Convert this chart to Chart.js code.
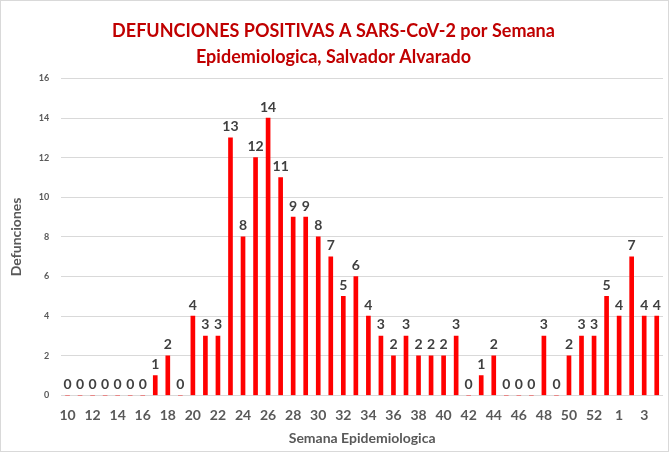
<!DOCTYPE html>
<html lang="es">
<head>
<meta charset="UTF-8" />
<title>Defunciones SARS-CoV-2 Salvador Alvarado</title>
<script src="https://cdn.jsdelivr.net/npm/chart.js@4.4.4/dist/chart.umd.min.js"></script>
<style>
  * { box-sizing: border-box; margin: 0; padding: 0; }
  body { background: #fff; width: 669px; height: 452px; overflow: hidden; }
  .wrap { position: relative; width: 669px; height: 452px; border: 1px solid #d9d9d9; }
</style>
</head>
<body>
<div class="wrap"><canvas id="chart"></canvas></div>
<script>
// semanas epidemiologicas: 10..53 de un año y 1..4 del siguiente
const semanas = ['10','11','12','13','14','15','16','17','18','19','20','21','22','23','24','25','26','27','28','29','30','31','32','33','34','35','36','37','38','39','40','41','42','43','44','45','46','47','48','49','50','51','52','53','1','2','3','4']
const defunciones = [0,0,0,0,0,0,0,1,2,0,4,3,3,13,8,12,14,11,9,9,8,7,5,6,4,3,2,3,2,2,2,3,0,1,2,0,0,0,3,0,2,3,3,5,4,7,4,4]
const yTicks = [0,2,4,6,8,10,12,14,16]

const font = 'Lato, "Open Sans", sans-serif'

// etiquetas de valor encima de cada barra
const valueLabels = {
  id: 'valueLabels',
  afterDatasetsDraw(chart) {
    const ctx = chart.ctx
    const meta = chart.getDatasetMeta(0)
    ctx.save()
    ctx.font = 'bold 14px ' + font
    ctx.fillStyle = '#404040'
    ctx.textAlign = 'center'
    ctx.textBaseline = 'bottom'
    meta.data.forEach((bar, i) => {
      ctx.fillText(String(defunciones[i]), bar.x, bar.y - 4)
    })
    ctx.restore()
  },
}

new Chart(document.getElementById('chart'), {
  type: 'bar',
  data: {
    labels: semanas,
    datasets: [{
      label: 'Defunciones',
      data: defunciones,
      backgroundColor: '#ff0000',
      barThickness: 4,
    }],
  },
  options: {
    responsive: true,
    maintainAspectRatio: false,
    animation: false,
    layout: { padding: { top: 8, right: 5, left: 3, bottom: 0 } },
    plugins: {
      legend: { display: false },
      tooltip: { enabled: false },
      title: {
        display: true,
        text: ['DEFUNCIONES POSITIVAS A SARS-CoV-2 por Semana', 'Epidemiologica, Salvador Alvarado'],
        color: '#c00000',
        font: { family: font, size: 18, weight: 'bold', lineHeight: 1.4 },
        padding: { top: 10, bottom: 9 },
      },
    },
    scales: {
      x: {
        grid: { display: false },
        border: { display: false },
        ticks: {
          autoSkip: false,
          maxRotation: 0,
          color: '#595959',
          font: { family: font, size: 14, weight: 'bold' },
          padding: 4,
          callback: (v, i) => (i % 2 === 0 ? semanas[i] : ''),
        },
        title: {
          display: true,
          text: 'Semana Epidemiologica',
          color: '#595959',
          font: { family: font, size: 14, weight: 'bold' },
          padding: { top: 2 },
        },
      },
      y: {
        min: 0,
        max: 16,
        afterBuildTicks: (axis) => { axis.ticks = yTicks.map((v) => ({ value: v })) },
        grid: { color: '#d9d9d9', drawTicks: false },
        border: { display: false },
        ticks: {
          color: '#595959',
          font: { family: font, size: 9, weight: 'bold' },
          padding: 12,
        },
        title: {
          display: true,
          text: 'Defunciones',
          color: '#595959',
          font: { family: font, size: 14, weight: 'bold' },
          padding: { bottom: 2 },
        },
      },
    },
  },
  plugins: [valueLabels],
})
</script>
</body>
</html>
